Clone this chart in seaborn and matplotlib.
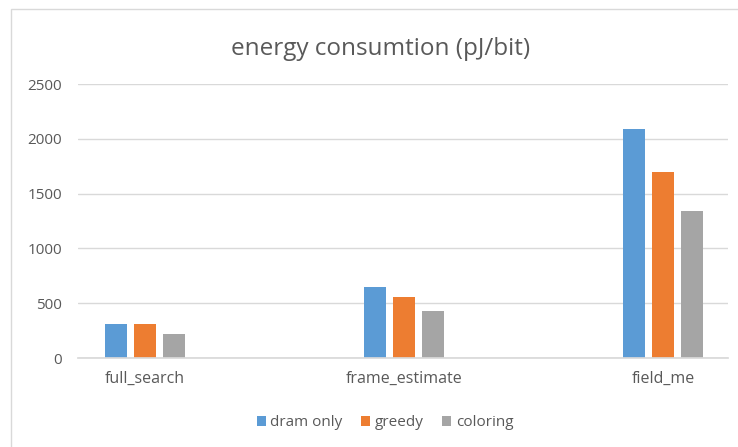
import matplotlib
matplotlib.use("Agg")
import matplotlib.pyplot as plt
import seaborn as sns
import pandas as pd
from matplotlib.patches import Rectangle

categories = ["full_search", "frame_estimate", "field_me"]
series = ["dram only", "greedy", "coloring"]
dram_only = [310, 650, 2090]
greedy = [310, 555, 1695]
coloring = [215, 425, 1340]
yticks = [0, 500, 1000, 1500, 2000, 2500]
colors = ["#5B9BD5", "#ED7D31", "#A5A5A5"]

rows = []
for name, vals in zip(series, [dram_only, greedy, coloring]):
    for c, v in zip(categories, vals):
        rows.append({"category": c, "series": name, "value": v})
df = pd.DataFrame(rows)

sns.set_theme(style="white")
plt.rcParams['font.family'] = ['Open Sans', 'DejaVu Sans']
txt = "#595959"

fig = plt.figure(figsize=(7.38, 4.47), dpi=100)
ax = fig.add_axes([78/738, (447-358)/447, (728-78)/738, (358-84)/447])

sns.barplot(data=df, x="category", y="value", hue="series", order=categories,
            hue_order=series, palette=colors, width=0.335, gap=0.24,
            saturation=1, ax=ax, legend=True, linewidth=0)

ax.set_xlim(-0.259, 2.251)
ax.set_ylim(0, 2500)
ax.set_yticks(yticks)
ax.set_yticklabels([str(t) for t in yticks])
ax.yaxis.grid(True, color="#D9D9D9", linewidth=1)
ax.set_axisbelow(True)
for s in ["top", "right", "left"]:
    ax.spines[s].set_visible(False)
ax.spines["bottom"].set_color("#D9D9D9")
ax.set_xlabel("")
ax.set_ylabel("")
ax.tick_params(axis="both", colors=txt, length=0)
ax.tick_params(axis="y", pad=11.5, labelsize=11)
ax.tick_params(axis="x", pad=9, labelsize=11.5)

fig.text(381/738, 1 - 49/447, "energy consumtion (pJ/bit)", color=txt, fontsize=17.5,
         ha="center", va="center")

handles, labels = ax.get_legend_handles_labels()
ax.legend_.remove()
leg = fig.legend(handles, labels, loc="center", bbox_to_anchor=(385/738, 1 - 423/447),
                 ncol=3, frameon=False, fontsize=11, handlelength=0.6, handleheight=0.6,
                 handletextpad=0.3, columnspacing=1.2)
for t in leg.get_texts():
    t.set_color(txt)

fig.patches.append(Rectangle((11/738, -0.1), 1.2, 1 - 9/447 + 0.1, transform=fig.transFigure,
                             fill=False, edgecolor="#D9D9D9", linewidth=1))

fig.savefig("out.png", dpi=100)
